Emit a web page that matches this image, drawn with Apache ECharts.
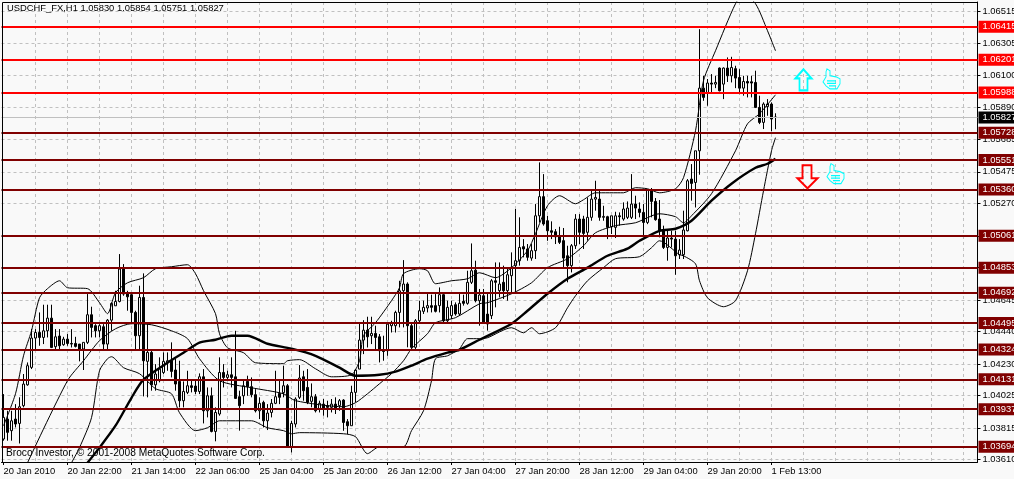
<!DOCTYPE html>
<html><head><meta charset="utf-8">
<style>html,body{margin:0;padding:0;background:#f9f9f9}#c{width:1014px;height:479px}</style>
<script src="https://cdn.jsdelivr.net/npm/echarts@6/dist/echarts.min.js"></script>
</head><body><div id="c"></div>
<script>
const tickLabels=['20 Jan 2010','20 Jan 22:00','21 Jan 14:00','22 Jan 06:00','25 Jan 04:00','25 Jan 20:00','26 Jan 12:00','27 Jan 04:00','27 Jan 20:00','28 Jan 12:00','29 Jan 04:00','29 Jan 20:00','1 Feb 13:00'];
const priceTicks=[1.06515,1.06305,1.06100,1.05890,1.05685,1.05475,1.05270,1.05060,1.04855,1.04645,1.04440,1.04230,1.04025,1.03815,1.03610];
const redLevels=[1.06415,1.06201,1.05988];
const maroonLevels=[1.05728,1.05551,1.05360,1.05061,1.04853,1.04692,1.04495,1.04324,1.04131,1.03937,1.03694];
const lastPrice=1.05827;
const opens=[1.03744,1.03873,1.03798,1.03873,1.03845,1.03960,1.04095,1.04208,1.04398,1.04434,
1.04402,1.04445,1.04527,1.04342,1.04411,1.04355,1.04391,1.04363,1.04363,1.04359,
1.04327,1.04370,1.04549,1.04478,1.04445,1.04471,1.04359,1.04514,1.04607,1.04635,
1.04845,1.04683,1.04679,1.04564,1.04413,1.04661,1.04247,1.04305,1.04095,1.04122,
1.04175,1.04240,1.04251,1.04191,1.04117,1.03992,1.04046,1.04089,1.04087,1.04052,
1.04147,1.03927,1.04024,1.03793,1.03906,1.04175,1.04143,1.04160,1.04147,1.04018,
1.04024,1.04117,1.04083,1.04031,1.03927,1.03981,1.03862,1.03916,1.03975,1.04039,
1.04044,1.04089,1.03690,1.03841,1.04014,1.04147,1.04078,1.03988,1.04018,1.03938,
1.03970,1.03960,1.03949,1.03970,1.03960,1.03996,1.03856,1.03830,1.04046,1.04197,
1.04385,1.04449,1.04413,1.04428,1.04406,1.04316,1.04316,1.04478,1.04478,1.04564,
1.04705,1.04748,1.04478,1.04338,1.04510,1.04571,1.04593,1.04608,1.04608,1.04608,
1.04679,1.04510,1.04543,1.04614,1.04554,1.04636,1.04623,1.04759,1.04838,1.04640,
1.04672,1.04553,1.04543,1.04769,1.04705,1.04759,1.04705,1.04802,1.04867,1.04899,
1.04990,1.04975,1.04916,1.04964,1.05190,1.05314,1.05158,1.05093,1.05087,1.05054,
1.05029,1.04931,1.04867,1.04996,1.05169,1.05169,1.05083,1.05180,1.05298,1.05298,
1.05180,1.05184,1.05119,1.05115,1.05190,1.05169,1.05180,1.05180,1.05266,1.05234,
1.05212,1.05147,1.05357,1.05283,1.05169,1.05098,1.04985,1.05046,1.05039,1.04938,
1.04938,1.05093,1.05428,1.05406,1.05611,1.06017,1.05989,1.06050,1.06043,1.06147,
1.06043,1.06147,1.06097,1.06143,1.06086,1.06017,1.06060,1.06058,1.06054,1.05892,
1.05795,1.05897,1.05914,1.05830];
const highs=[1.04035,1.03927,1.03927,1.03970,1.04014,1.04165,1.04240,1.04456,1.04456,1.04564,
1.04614,1.04614,1.04614,1.04456,1.04456,1.04406,1.04424,1.04456,1.04406,1.04359,
1.04370,1.04683,1.04601,1.04488,1.04488,1.04488,1.04521,1.04629,1.04704,1.04942,
1.04877,1.04704,1.04683,1.04575,1.04737,1.04817,1.04488,1.04316,1.04229,1.04273,
1.04305,1.04305,1.04370,1.04262,1.04251,1.04117,1.04186,1.04132,1.04132,1.04169,
1.04197,1.04078,1.04078,1.03949,1.04273,1.04229,1.04186,1.04273,1.04445,1.04057,
1.04121,1.04154,1.04143,1.04067,1.04014,1.03992,1.03970,1.04003,1.04186,1.04132,
1.04219,1.04100,1.03862,1.04014,1.04223,1.04186,1.04197,1.04104,1.04035,1.03992,
1.04003,1.03992,1.04003,1.04014,1.04003,1.04002,1.03873,1.04089,1.04197,1.04499,
1.04514,1.04536,1.04536,1.04478,1.04424,1.04413,1.04499,1.04510,1.04575,1.04769,
1.04903,1.04759,1.04489,1.04521,1.04640,1.04640,1.04683,1.04679,1.04683,1.04726,
1.04687,1.04640,1.04640,1.04629,1.04683,1.04679,1.04834,1.05011,1.04899,1.04716,
1.04716,1.04683,1.04780,1.04888,1.04888,1.04867,1.04856,1.04953,1.05234,1.05180,
1.05039,1.05007,1.05007,1.05266,1.05536,1.05460,1.05190,1.05154,1.05104,1.05119,
1.05111,1.04996,1.05007,1.05201,1.05201,1.05190,1.05309,1.05352,1.05417,1.05363,
1.05255,1.05190,1.05190,1.05216,1.05212,1.05277,1.05283,1.05460,1.05320,1.05277,
1.05266,1.05357,1.05370,1.05305,1.05292,1.05126,1.05093,1.05093,1.05093,1.05039,
1.05223,1.05428,1.05525,1.05611,1.06399,1.06097,1.06076,1.06108,1.06097,1.06151,
1.06151,1.06216,1.06220,1.06162,1.06140,1.06097,1.06097,1.06097,1.06130,1.05968,
1.05925,1.05946,1.05925,1.05854];
const lows=[1.03733,1.03733,1.03733,1.03819,1.03715,1.03949,1.04089,1.04197,1.04316,1.04348,
1.04359,1.04402,1.04333,1.04327,1.04320,1.04348,1.04348,1.04337,1.04337,1.04247,
1.04191,1.04359,1.04402,1.04402,1.04402,1.04327,1.04327,1.04445,1.04607,1.04629,
1.04672,1.04575,1.04488,1.04320,1.04316,1.04020,1.04014,1.04057,1.04057,1.04111,
1.04165,1.04186,1.04143,1.04057,1.03949,1.03949,1.04035,1.04046,1.04035,1.04035,
1.03845,1.03884,1.03787,1.03729,1.03895,1.04078,1.04122,1.04078,1.04003,1.03798,
1.03970,1.04024,1.04014,1.03916,1.03873,1.03819,1.03802,1.03884,1.03970,1.03970,
1.04014,1.03690,1.03657,1.03819,1.04003,1.03992,1.03970,1.03949,1.03916,1.03916,
1.03895,1.03884,1.03916,1.03906,1.03927,1.03797,1.03776,1.03830,1.03981,1.04197,
1.04294,1.04337,1.04359,1.04316,1.04240,1.04251,1.04283,1.04434,1.04434,1.04467,
1.04467,1.04338,1.04316,1.04327,1.04489,1.04554,1.04564,1.04564,1.04564,1.04564,
1.04500,1.04500,1.04521,1.04543,1.04543,1.04608,1.04614,1.04748,1.04629,1.04478,
1.04489,1.04446,1.04521,1.04597,1.04661,1.04651,1.04640,1.04683,1.04694,1.04867,
1.04921,1.04899,1.04899,1.04910,1.05147,1.05126,1.05028,1.05039,1.05007,1.05007,
1.04856,1.04759,1.04823,1.04975,1.05007,1.04975,1.05029,1.05158,1.05223,1.05158,
1.05158,1.05039,1.05072,1.05046,1.05126,1.05158,1.05169,1.05169,1.05169,1.05180,
1.05061,1.05136,1.05180,1.05158,1.05050,1.04975,1.04899,1.04985,1.04808,1.04910,
1.04910,1.05089,1.05288,1.05244,1.05456,1.05935,1.05903,1.05989,1.06017,1.05996,
1.05946,1.06057,1.06054,1.06017,1.05978,1.05968,1.05957,1.05957,1.05888,1.05784,
1.05752,1.05838,1.05737,1.05751];
const closes=[1.03884,1.03787,1.03862,1.03841,1.03953,1.04100,1.04219,1.04398,1.04434,1.04402,
1.04445,1.04527,1.04337,1.04406,1.04348,1.04391,1.04363,1.04359,1.04344,1.04320,
1.04370,1.04549,1.04467,1.04445,1.04478,1.04359,1.04514,1.04622,1.04635,1.04845,
1.04683,1.04665,1.04564,1.04413,1.04661,1.04251,1.04305,1.04095,1.04165,1.04197,
1.04247,1.04251,1.04182,1.04100,1.03992,1.04052,1.04089,1.04078,1.04052,1.04147,
1.03927,1.04024,1.03793,1.03916,1.04175,1.04143,1.04160,1.04143,1.04007,1.03960,
1.04089,1.04083,1.04031,1.03927,1.03975,1.03862,1.03912,1.03975,1.04018,1.04014,
1.04089,1.03690,1.03845,1.04003,1.04139,1.04057,1.03981,1.04018,1.03927,1.03975,
1.03938,1.03949,1.03970,1.03938,1.03992,1.03851,1.03830,1.04046,1.04190,1.04385,
1.04449,1.04406,1.04428,1.04402,1.04316,1.04311,1.04488,1.04493,1.04564,1.04704,
1.04748,1.04478,1.04338,1.04510,1.04575,1.04597,1.04608,1.04597,1.04571,1.04679,
1.04510,1.04597,1.04608,1.04554,1.04623,1.04623,1.04759,1.04834,1.04640,1.04677,
1.04500,1.04489,1.04769,1.04759,1.04748,1.04705,1.04808,1.04856,1.04899,1.04985,
1.04975,1.04921,1.04964,1.05190,1.05314,1.05137,1.05093,1.05083,1.05054,1.05018,
1.04916,1.04867,1.04996,1.05169,1.05083,1.05076,1.05180,1.05298,1.05309,1.05180,
1.05186,1.05115,1.05190,1.05190,1.05184,1.05234,1.05240,1.05266,1.05240,1.05212,
1.05147,1.05357,1.05283,1.05165,1.05093,1.04985,1.05046,1.05039,1.04931,1.04968,
1.05098,1.05417,1.05400,1.05611,1.06017,1.05957,1.06050,1.06043,1.06054,1.06000,
1.06147,1.06097,1.06151,1.06082,1.06017,1.06060,1.06050,1.06050,1.05892,1.05795,
1.05914,1.05914,1.05817,1.05827];
const upperBand=[[0,1.03830],[3,1.04037],[5,1.04283],[7,1.04445],[9,1.04659],[11,1.04718],[14,1.04769],[16,1.04724],[21,1.04718],[24,1.04627],[26,1.04556],[28,1.04692],[31,1.04756],[35,1.04789],[38,1.04847],[42,1.04860],[46,1.04873],[48,1.04815],[50,1.04705],[53,1.04556],[54,1.04426],[56,1.04335],[60,1.04303],[63,1.04238],[70,1.04232],[71,1.04251],[74,1.04258],[78,1.04199],[82,1.04147],[87,1.04160],[89,1.04251],[90,1.04413],[93,1.04497],[97,1.04640],[99,1.04724],[100,1.04815],[104,1.04847],[106,1.04834],[108,1.04750],[112,1.04769],[116,1.04782],[119,1.04821],[123,1.04789],[127,1.04854],[131,1.04964],[133,1.05074],[136,1.05255],[139,1.05320],[143,1.05268],[145,1.05294],[148,1.05339],[155,1.05339],[158,1.05372],[161,1.05365],[164,1.05339],[168,1.05365],[170,1.05437],[173,1.05741],[175,1.06065],[178,1.06259],[183,1.06564],[185,1.06622],[188,1.06564],[191,1.06389],[193,1.06259]];
const middleBand=[[6,1.03590],[16,1.04122],[20,1.04251],[24,1.04381],[28,1.04458],[32,1.04491],[37,1.04484],[42,1.04445],[46,1.04394],[49,1.04264],[54,1.04122],[62,1.04076],[70,1.04037],[73,1.03992],[85,1.03953],[88,1.03979],[91,1.04037],[94,1.04102],[97,1.04167],[100,1.04251],[102,1.04329],[106,1.04426],[108,1.04497],[113,1.04530],[119,1.04620],[121,1.04627],[127,1.04685],[132,1.04756],[136,1.04854],[141,1.04912],[145,1.04996],[148,1.05080],[153,1.05126],[158,1.05145],[164,1.05203],[168,1.05184],[170,1.05145],[172,1.05190],[177,1.05333],[183,1.05611],[186,1.05786],[189,1.05851],[193,1.05974]];
const lowerBand=[[17,1.03590],[19,1.03688],[22,1.03882],[24,1.04186],[26,1.04264],[27,1.04277],[30,1.04206],[34,1.04167],[38,1.04070],[42,1.04037],[44,1.03914],[48,1.03798],[51,1.03817],[54,1.03862],[62,1.03862],[66,1.03817],[70,1.03798],[72,1.03778],[74,1.03785],[85,1.03778],[88,1.03759],[91,1.03649],[94,1.03694],[100,1.03694],[102,1.03798],[105,1.03927],[107,1.04122],[108,1.04264],[111,1.04283],[114,1.04329],[116,1.04394],[119,1.04394],[121,1.04400],[127,1.04465],[130,1.04432],[132,1.04465],[134,1.04426],[138,1.04465],[141,1.04594],[143,1.04672],[146,1.04769],[150,1.04854],[153,1.04912],[159,1.04925],[162,1.04983],[164,1.05028],[169,1.04938],[170,1.04931],[173,1.04879],[174,1.04769],[176,1.04659],[180,1.04601],[183,1.04640],[186,1.04834],[188,1.05074],[190,1.05352],[192,1.05611],[193,1.05696]];
const movingAverage=[[21,1.03590],[24,1.03688],[28,1.03830],[32,1.04011],[35,1.04128],[41,1.04238],[45,1.04303],[49,1.04368],[53,1.04387],[57,1.04413],[61,1.04413],[66,1.04361],[72,1.04329],[78,1.04283],[84,1.04206],[88,1.04154],[94,1.04160],[98,1.04180],[102,1.04219],[106,1.04264],[111,1.04303],[114,1.04322],[119,1.04387],[127,1.04491],[131,1.04575],[136,1.04685],[141,1.04782],[146,1.04854],[151,1.04931],[156,1.04977],[159,1.05028],[164,1.05093],[168,1.05106],[172,1.05158],[177,1.05288],[182,1.05398],[188,1.05501],[191,1.05527],[193,1.05560]];

const BAR_SLOTS=244;
const categories=Array.from({length:BAR_SLOTS},(_,i)=>(i%16===0&&tickLabels[i/16])||'');
const candles=opens.map((o,i)=>[o,closes[i],lows[i],highs[i]]);
const FONT='"Liberation Sans",Arial,sans-serif';
const arrowUp='path://M8,0 L16,9 L12,9 L12,21 L4,21 L4,9 L0,9 Z';
const arrowDown='path://M5,0 L14,0 L14,13 L20,13 L10,23 L0,13 L5,13 Z';
const thumb='path://M4,0 L7,2 L7,7 L13,8 L17,10 L17,15 L14,20 L7,20 L3,17 L0,13 L3,8 L3,3 Z M4,12 L13,12 M4,14.5 L13,14.5 M6,17 L13,17';
const levelLine=(v,c)=>({yAxis:v,lineStyle:{color:c,width:2,type:'solid'},label:{backgroundColor:c}});
const thinBand=(name,data)=>({name,type:'line',data,symbol:'none',silent:true,smooth:0.25,lineStyle:{color:'#000',width:1},z:3});
const marker=(sym,w,h,idx,price,color,bw)=>({coord:[idx,price],symbol:sym,symbolSize:[w,h],itemStyle:{color:'transparent',borderColor:color,borderWidth:bw},label:{show:false}});

const chart=echarts.init(document.getElementById('c'),null,{renderer:'canvas'});
chart.setOption({
 animation:false,backgroundColor:'#f9f9f9',
 title:[
  {text:'USDCHF_FX,H1 1.05830 1.05854 1.05751 1.05827',left:7,top:4,padding:0,textStyle:{fontFamily:FONT,fontSize:9.4,fontWeight:'normal',color:'#000'}},
  {text:'Broco Investor, © 2001-2008 MetaQuotes Software Corp.',left:6,top:448,padding:0,textStyle:{fontFamily:FONT,fontSize:10.2,fontWeight:'normal',color:'#000'}}
 ],
 grid:{left:1.5,top:2,width:976,height:460,show:false,outerBoundsMode:'none'},
 graphic:[
  {type:'line',shape:{x1:2.5,y1:2.5,x2:2.5,y2:462},style:{stroke:'#000',lineWidth:1},z:10},
  {type:'line',shape:{x1:2.5,y1:2.5,x2:977.5,y2:2.5},style:{stroke:'#000',lineWidth:1},z:10}
 ],
 xAxis:{type:'category',data:categories,boundaryGap:true,
  axisLine:{show:true,lineStyle:{color:'#000',width:1}},
  axisTick:{show:true,alignWithLabel:true,interval:(i)=>i%16===0&&i<=192,length:3,lineStyle:{color:'#000'}},
  axisLabel:{interval:15,align:'left',margin:5,color:'#000',fontFamily:FONT,fontSize:9.4,hideOverlap:false,showMinLabel:true},
  splitLine:{show:true,alignWithLabel:true,interval:(i)=>i%8===0&&i>0,lineStyle:{color:'#c0c0c0',type:[3,3],width:1}}},
 yAxis:{type:'value',position:'right',min:1.03595,max:1.06575,scale:true,
  axisLine:{show:true,lineStyle:{color:'#000',width:1}},
  axisTick:{show:true,length:3,customValues:priceTicks,lineStyle:{color:'#000'}},
  axisLabel:{customValues:priceTicks,margin:5,color:'#000',fontFamily:FONT,fontSize:9.4,formatter:(v)=>v.toFixed(5),hideOverlap:false},
  splitLine:{show:true,lineStyle:{color:'#c0c0c0',type:[3,3],width:1}}},
 series:[
  {name:'USDCHF',type:'candlestick',data:candles,barWidth:3,silent:true,z:2,
   itemStyle:{color:'#f9f9f9',color0:'#000',borderColor:'#000',borderColor0:'#000',borderWidth:1}},
  thinBand('Upper band',upperBand),thinBand('Middle band',middleBand),thinBand('Lower band',lowerBand),
  {name:'Moving average',type:'line',data:movingAverage,symbol:'none',silent:true,z:4,smooth:0.25,lineStyle:{color:'#000',width:2.4},
   markLine:{silent:true,symbol:'none',z:5,precision:5,
    label:{show:true,position:'end',distance:1,color:'#fff',fontFamily:FONT,fontSize:9.4,padding:[1.5,5,1.5,4],formatter:(p)=>Number(p.value).toFixed(5)},
    data:[{yAxis:lastPrice,lineStyle:{color:'#c0c0c0',width:1,type:'solid'},label:{backgroundColor:'#000'}}]
      .concat(redLevels.map(v=>levelLine(v,'#ff0000')),maroonLevels.map(v=>levelLine(v,'#800000')))},
   markPoint:{silent:true,z:6,data:[
     marker(arrowUp,16,21,200,1.06071,'#00ffff',2),
     marker(arrowDown,20,23,201,1.05443,'#ff0000',2),
     marker(thumb,17,20,207,1.06077,'#00ffff',1),
     marker(thumb,17,20,208,1.05463,'#00ffff',1)]}}
 ]
});
</script></body></html>
